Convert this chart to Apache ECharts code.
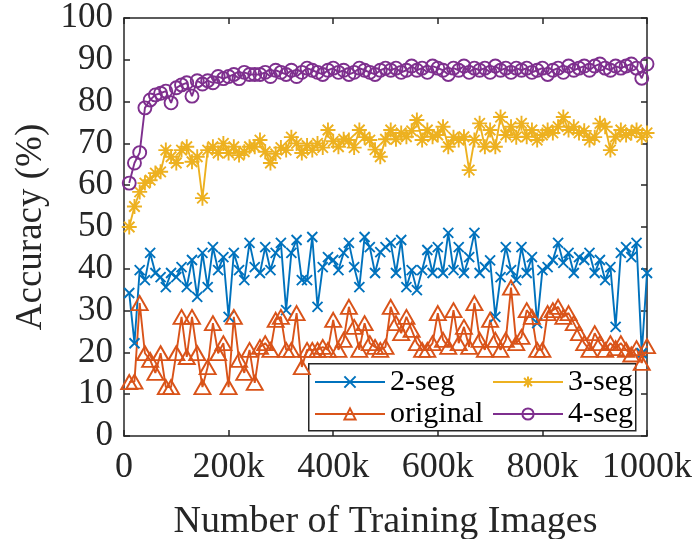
<!DOCTYPE html>
<html>
<head>
<meta charset="utf-8">
<script src="https://cdn.jsdelivr.net/npm/echarts@6/dist/echarts.min.js"></script>
<style>
  html, body { margin: 0; padding: 0; background: #fff; }
  #chart { width: 695px; height: 539px; }
</style>
</head>
<body>
<div id="chart"></div>
<script>
// Sampling grid: accuracy measured every 10k training images
const trainingImages = Array.from({ length: 100 }, (_, i) => (i + 1) * 10000);

const xTicks = [0, 200000, 400000, 600000, 800000, 1000000];
const yTicks = [0, 10, 20, 30, 40, 50, 60, 70, 80, 90, 100];

const seg2 = [
  34.2, 22.2, 39.7, 37.3, 43.8, 39, 38, 35.6, 39, 38,
  40.4, 35.6, 42.1, 33.3, 43.8, 35.6, 45.2, 39.7, 42.8, 28.5,
  43.8, 39.7, 37.3, 46.2, 40.4,
  39, 45.2, 39.7, 43.8, 46.2, 30.1, 43.8, 46.9, 37.3, 37.3,
  47.6, 30.9, 40.4, 42.8, 42.1, 39.7, 43.8, 46.2, 40.4, 35.6,
  47.6, 45.2, 39, 44, 45.2,
  46.2, 39, 46.9, 35.6, 39.7, 34.9, 39.7, 44.5, 39, 45.2,
  39, 48.6, 39.7, 45.2, 39, 42.8, 48.6, 39, 40.4, 42,
  28.5, 38, 45.2, 39.7, 37.3,
  45.2, 39, 42.8, 27, 39.7, 40.4, 42.1, 46.2, 41.4, 43.8,
  39, 42.8, 42.1, 43.8, 39, 42.1, 37.3, 40.4, 26.1, 43.8,
  45.2, 42.8, 46.2, 19.8, 39
];

const seg3 = [
  50, 54.9, 58.4, 60.5, 61.2, 62.9, 63.2, 68.4, 66.8, 65.3,
  68.4, 69.2, 65.6, 66.8, 56.9, 68.4, 69.2, 67.7, 70, 67.7,
  69.2, 67.2, 68, 69.2, 69.2,
  70.8, 68, 65.3, 67.5, 69, 68.4, 71.5, 70, 67.7, 69.5,
  68.4, 70, 69, 73.2, 70.5, 69.2, 71, 70.8, 69, 73.2,
  71.5, 70.8, 68.5, 66.8, 71,
  73.2, 71, 72.5, 71.6, 73, 75.6, 70.8, 73.2, 71.6, 72,
  74, 69.2, 71.5, 70.8, 71.6, 63.6, 70.8, 74.8, 69.2, 73.2,
  69.2, 76.3, 72, 74, 71.5,
  74.8, 71.6, 73.2, 70.8, 72, 73.2, 72.5, 74, 76.3, 73.2,
  74, 72.5, 73, 70.8, 71.5, 74.8, 74, 68.4, 71.6, 73.2,
  72, 72.5, 73.2, 71.5, 72.5
];

const original = [
  12.9, 13, 31.8, 19.8, 18.2, 15.1, 19.8, 11.7, 11.7, 19.8,
  28.5, 18.9, 28.5, 19.8, 11.7, 16.5, 27, 19.8, 22.2, 11.7,
  28.5, 18.2, 15.1, 20.6, 12.7,
  21.3, 22.2, 20.6, 27.8, 28.5, 20.6, 20.6, 29.4, 16.5, 20.6,
  20.6, 20.6, 21.3, 20.6, 27.8, 20.6, 23, 30.9, 26.1, 20.6,
  27, 22.2, 21.3, 20.6, 21.3,
  30.9, 27, 24.6, 28.5, 25.4, 22.2, 20.6, 20.6, 22.2, 29.4,
  23, 21.3, 30.1, 22.2, 26.1, 21.3, 31.8, 23, 20.6, 27.8,
  23, 20.6, 23, 35.5, 22.2,
  23.7, 30.1, 28.5, 20.6, 20.6, 29.4, 30.1, 30.9, 28.5, 29.4,
  27, 24.6, 22.2, 20.6, 24.6, 22.2, 20.6, 22.2, 21, 22.2,
  20.6, 19.5, 21, 17.5, 21.5
];

const seg4 = [
  60.5, 65.3, 67.8, 78.5, 80.4, 81.6, 82, 82.5, 79.7, 83.3,
  84, 84.5, 81.3, 85, 84.2, 85, 84.5, 86, 85.5, 86,
  86.5, 85.5, 87, 86.5, 86.5,
  86.5, 87, 86, 87.5, 87, 86.5, 87.5, 86, 87, 88,
  87.5, 87, 86.5, 87.5, 88, 87, 87.5, 86.5, 87, 88,
  87.5, 87, 86.5, 87.5, 88,
  87.5, 88, 87, 87.5, 88.5, 87.5, 88, 87, 88.5, 88,
  87.5, 86.5, 88, 87.5, 88.5, 87, 88, 87.5, 88, 87,
  88.5, 87.5, 88, 87, 88,
  87.5, 88, 87, 87.5, 88, 86.5, 87.5, 88, 87, 88.5,
  87.5, 88, 88.5, 87.5, 88.5, 89, 88, 87.5, 88.5, 88,
  88.5, 89, 88, 85.6, 89
];

const FONT = '"Liberation Serif", "Times New Roman", serif';
const INK = '#262626';

const CROSS = 'path://M0 0L10 10M0 10L10 0';
const STAR = 'path://M5 0L5 10M0 5L10 5M1.5 1.5L8.5 8.5M1.5 8.5L8.5 1.5';

function pairs(values) {
  return trainingImages.map((x, i) => [x, values[i]]);
}

function lineSeries(name, values, color, symbol, size) {
  return {
    name: name,
    type: 'line',
    data: pairs(values),
    symbol: symbol,
    symbolSize: size,
    lineStyle: { color: color, width: 1.9 },
    itemStyle: { color: 'rgba(0,0,0,0)', borderColor: color, borderWidth: 1.9 },
    emphasis: { disabled: true },
    animation: false
  };
}

const axisLine = { show: true, onZero: false, lineStyle: { color: INK, width: 1.5 } };
const axisTick = { show: true, inside: true, length: 6, lineStyle: { color: INK, width: 1.5 } };

const chart = echarts.init(document.getElementById('chart'), null, { renderer: 'canvas' });

chart.setOption({
  backgroundColor: '#fff',
  animation: false,
  grid: {
    left: 124, right: 48, top: 18, bottom: 103,
    containLabel: false, outerBoundsMode: 'none'
  },
  xAxis: [
    {
      type: 'value', position: 'bottom',
      min: xTicks[0], max: xTicks[xTicks.length - 1], interval: xTicks[1] - xTicks[0],
      axisLine: axisLine, axisTick: axisTick, splitLine: { show: false },
      axisLabel: {
        margin: 14, color: INK, fontFamily: FONT, fontSize: 36,
        formatter: v => (v === 0 ? '0' : (v / 1000) + 'k')
      },
      name: 'Number of Training Images', nameLocation: 'middle', nameGap: 67,
      nameTextStyle: { color: INK, fontFamily: FONT, fontSize: 38 }
    },
    {
      type: 'value', position: 'top',
      min: xTicks[0], max: xTicks[xTicks.length - 1], interval: xTicks[1] - xTicks[0],
      axisLine: axisLine, axisTick: axisTick, splitLine: { show: false },
      axisLabel: { show: false }
    }
  ],
  yAxis: [
    {
      type: 'value', position: 'left',
      min: yTicks[0], max: yTicks[yTicks.length - 1], interval: yTicks[1] - yTicks[0],
      axisLine: axisLine, axisTick: axisTick, splitLine: { show: false },
      axisLabel: { margin: 11, color: INK, fontFamily: FONT, fontSize: 35 },
      name: 'Accuracy (%)', nameLocation: 'middle', nameGap: 72,
      nameTextStyle: { color: INK, fontFamily: FONT, fontSize: 37 }
    },
    {
      type: 'value', position: 'right',
      min: yTicks[0], max: yTicks[yTicks.length - 1], interval: yTicks[1] - yTicks[0],
      axisLine: axisLine, axisTick: axisTick, splitLine: { show: false },
      axisLabel: { show: false }
    }
  ],
  legend: [
    {
      data: ['2-seg', 'original'], orient: 'vertical', left: 314, top: 367,
      itemWidth: 70, itemHeight: 14, itemGap: 2, padding: 0, selectedMode: false,
      textStyle: { color: '#000', fontFamily: FONT, fontSize: 30 }
    },
    {
      data: ['3-seg', '4-seg'], orient: 'vertical', left: 492, top: 367,
      itemWidth: 70, itemHeight: 14, itemGap: 2, padding: 0, selectedMode: false,
      textStyle: { color: '#000', fontFamily: FONT, fontSize: 30 }
    }
  ],
  graphic: [
    {
      type: 'rect', left: 308, top: 363, z: 3,
      shape: { width: 327, height: 67 },
      style: { fill: '#fff', stroke: INK, lineWidth: 1.5 }
    }
  ],
  series: [
    lineSeries('2-seg', seg2, '#0072BD', CROSS, 10),
    lineSeries('3-seg', seg3, '#EDB120', STAR, 15),
    lineSeries('original', original, '#D95319', 'triangle', [16, 14]),
    lineSeries('4-seg', seg4, '#7E2F8E', 'circle', 13)
  ]
});
</script>
</body>
</html>
